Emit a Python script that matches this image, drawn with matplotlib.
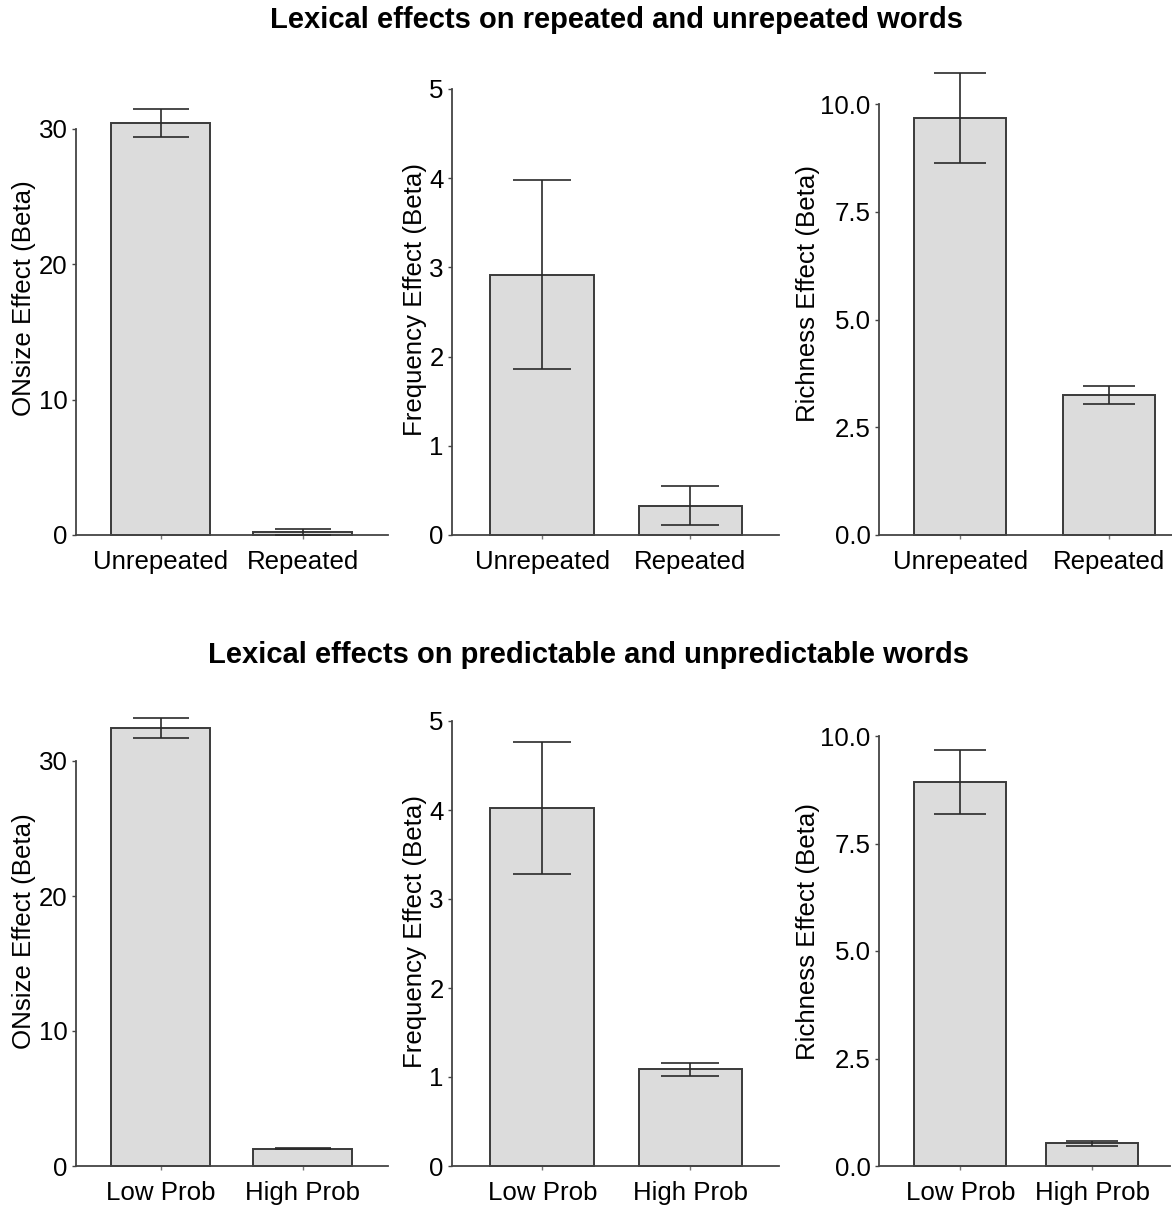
import matplotlib
matplotlib.use("Agg")
import matplotlib.pyplot as plt
import numpy as np

plt.rcParams["font.family"] = ["Liberation Sans", "DejaVu Sans"]

# Data
rep_labels = ["Unrepeated", "Repeated"]
prob_labels = ["Low Prob", "High Prob"]

onsize_rep = [30.45, 0.22]
onsize_rep_err = [1.05, 0.22]
freq_rep = [2.92, 0.33]
freq_rep_err = [1.06, 0.22]
rich_rep = [9.67, 3.24]
rich_rep_err = [1.05, 0.21]

onsize_prob = [32.47, 1.29]
onsize_prob_err = [0.74, 0.05]
freq_prob = [4.02, 1.085]
freq_prob_err = [0.74, 0.07]
rich_prob = [8.93, 0.527]
rich_prob_err = [0.735, 0.066]

ylabels = ["ONsize Effect (Beta)", "Frequency Effect (Beta)", "Richness Effect (Beta)"]
yticks_onsize = [0, 10, 20, 30]
yticks_freq = [0, 1, 2, 3, 4, 5]
yticks_rich = [0.0, 2.5, 5.0, 7.5, 10.0]

W, H = 1172, 1206
fig = plt.figure(figsize=(W / 100, H / 100), dpi=100)

BAR_FILL = "#dcdcdc"
EDGE = "#3a3a3a"
FS = 18.6


def px_axes(left, right, bottom, top):
    # pixel box -> figure fraction
    return fig.add_axes([left / W, 1 - bottom / H, (right - left) / W, (bottom - top) / H])


def draw_panel(ax, labels, vals, errs, yticks, ylabel, fmt, xlim, width, capsize, label_xy):
    x = np.arange(len(labels))
    ax.bar(x, vals, width=width, color=BAR_FILL, edgecolor=EDGE, linewidth=1.4,
           clip_on=False, zorder=2)
    ax.errorbar(x, vals, yerr=errs, fmt="none", ecolor="#2a2a2a", elinewidth=1.2,
                capsize=capsize, capthick=1.2, clip_on=False, zorder=3)
    ax.set_xlim(*xlim)
    ax.set_ylim(yticks[0], yticks[-1])
    ax.set_xticks(x)
    ax.set_xticklabels(labels, fontsize=FS)
    ax.set_yticks(yticks)
    ax.set_yticklabels([fmt.format(t) for t in yticks], fontsize=FS)
    for s in ["top", "right"]:
        ax.spines[s].set_visible(False)
    for s in ["left", "bottom"]:
        ax.spines[s].set_color("#444444")
        ax.spines[s].set_linewidth(1.3)
    ax.tick_params(axis="x", length=3, width=1, color="#777777", pad=8)
    ax.tick_params(axis="y", length=3, width=1, color="#444444", pad=3)
    ax.set_ylabel(ylabel, fontsize=FS, va="center", ha="center")
    ax.yaxis.set_label_coords(label_xy[0] / W, 1 - label_xy[1] / H, transform=fig.transFigure)
    ax.patch.set_alpha(0)


# top row: repeated vs unrepeated
ax1 = px_axes(76, 388, 535, 129)
draw_panel(ax1, rep_labels, onsize_rep, onsize_rep_err, yticks_onsize, ylabels[0], "{:g}",
           (-0.598, 1.603), 0.70, 20, (24, 298))
ax2 = px_axes(452, 779, 535, 89)
draw_panel(ax2, rep_labels, freq_rep, freq_rep_err, yticks_freq, ylabels[1], "{:g}",
           (-0.610, 1.599), 0.70, 21, (415, 299))
ax3 = px_axes(879, 1172, 535, 104)
draw_panel(ax3, rep_labels, rich_rep, rich_rep_err, yticks_rich, ylabels[2], "{:.1f}",
           (-0.548, 1.428), 0.62, 18.6, (808, 294))

# bottom row: low vs high predictability
ax4 = px_axes(76, 388, 1166, 761)
draw_panel(ax4, prob_labels, onsize_prob, onsize_prob_err, yticks_onsize, ylabels[0], "{:g}",
           (-0.598, 1.603), 0.70, 20, (24, 931))
ax5 = px_axes(452, 779, 1166, 721)
draw_panel(ax5, prob_labels, freq_prob, freq_prob_err, yticks_freq, ylabels[1], "{:g}",
           (-0.610, 1.599), 0.70, 21, (415, 931))
ax6 = px_axes(879, 1170, 1166, 736)
draw_panel(ax6, prob_labels, rich_prob, rich_prob_err, yticks_rich, ylabels[2], "{:.1f}",
           (-0.617, 1.592), 0.70, 18.6, (808, 931))

fig.text(616 / W, 1 - 20 / H, "Lexical effects on repeated and unrepeated words",
         fontsize=21, fontweight="bold", ha="center", va="center")
fig.text(588 / W, 1 - 655 / H, "Lexical effects on predictable and unpredictable words",
         fontsize=21, fontweight="bold", ha="center", va="center")

fig.savefig("out.png", dpi=100, facecolor="white")
plt.close(fig)
